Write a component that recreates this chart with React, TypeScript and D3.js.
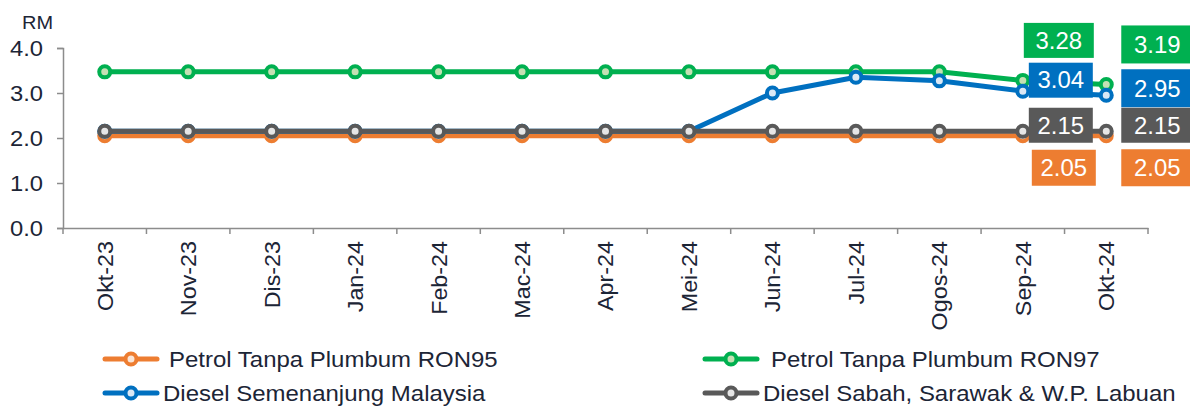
import React, { useRef, useEffect } from 'react';
import * as d3 from 'd3';

// 数据
const months = ['Okt-23', 'Nov-23', 'Dis-23', 'Jan-24', 'Feb-24', 'Mac-24', 'Apr-24', 'Mei-24', 'Jun-24', 'Jul-24', 'Ogos-24', 'Sep-24', 'Okt-24'];
const ron95 = [2.05, 2.05, 2.05, 2.05, 2.05, 2.05, 2.05, 2.05, 2.05, 2.05, 2.05, 2.05, 2.05];
const ron97 = [3.47, 3.47, 3.47, 3.47, 3.47, 3.47, 3.47, 3.47, 3.47, 3.47, 3.47, 3.28, 3.19];
const dieselSemenanjung = [2.15, 2.15, 2.15, 2.15, 2.15, 2.15, 2.15, 2.15, 3.0, 3.35, 3.27, 3.04, 2.95];
const dieselSabah = [2.15, 2.15, 2.15, 2.15, 2.15, 2.15, 2.15, 2.15, 2.15, 2.15, 2.15, 2.15, 2.15];
const yTicks = [0, 1, 2, 3, 4];

interface Series {
  name: string;
  values: number[];
  color: string;
  fill: string;
  // 标签框相对数据点的偏移 (Sep-24, Okt-24)
  labelOffsets: [number, number][];
}

const TEXT_COLOR = '#1c2536';
const AXIS_COLOR = '#8c8c8c';
const FONT = '"Liberation Sans", Arial, sans-serif';

const seriesList: Series[] = [
  { name: 'Petrol Tanpa Plumbum RON95', values: ron95, color: '#ED7D31', fill: '#FBE5D6', labelOffsets: [[41, 32], [51, 32]] },
  { name: 'Petrol Tanpa Plumbum RON97', values: ron97, color: '#00B050', fill: '#C5E0B4', labelOffsets: [[36, -40], [51, -40]] },
  { name: 'Diesel Semenanjung Malaysia', values: dieselSemenanjung, color: '#0070C0', fill: '#DAE8F5', labelOffsets: [[38, -11], [51, -7]] },
  { name: 'Diesel Sabah, Sarawak & W.P. Labuan', values: dieselSabah, color: '#595959', fill: '#E6E6E6', labelOffsets: [[38, -6], [51, -6]] }
];

// 图例位置
const legendItems = [
  { idx: 0, x: 103, y: 359, textX: 169 },
  { idx: 1, x: 703, y: 359, textX: 771 },
  { idx: 2, x: 103, y: 393, textX: 163 },
  { idx: 3, x: 703, y: 393, textX: 763 }
];

function drawChart(svgEle: SVGSVGElement) {
  const svg = d3.select(svgEle);
  svg.selectAll('*').remove();

  const x = d3.scaleBand().domain(months).range([63, 1148]).padding(0);
  const y = d3.scaleLinear().domain([0, 4]).range([228, 48]);
  const cx = (m: string) => (x(m) as number) + x.bandwidth() / 2;

  // RM 单位
  svg
    .append('text')
    .attr('transform', 'translate(22, 29) scale(1.05, 1)')
    .attr('font-size', 19)
    .attr('fill', TEXT_COLOR)
    .text('RM');

  // y 轴
  const yAxis = svg
    .append('g')
    .attr('transform', 'translate(63, 0)')
    .call(d3.axisLeft(y).tickValues(yTicks).tickSize(6).tickPadding(14).tickFormat(d3.format('.1f')));
  yAxis.select('.domain').attr('stroke', AXIS_COLOR).attr('stroke-width', 1.5);
  yAxis.selectAll('.tick line').attr('stroke', AXIS_COLOR).attr('stroke-width', 1.5);
  yAxis
    .selectAll('.tick text')
    .attr('font-size', 22)
    .attr('font-family', FONT)
    .attr('fill', TEXT_COLOR)
    .attr('x', 0)
    .attr('transform', 'translate(-20, 0) scale(1.08, 1)')
    .attr('dy', '0.36em');

  // x 轴
  const xAxis = svg
    .append('g')
    .attr('transform', `translate(0, ${y(0)})`)
    .call(d3.axisBottom(x).tickValues([]).tickSizeOuter(0));
  xAxis.select('.domain').attr('stroke', AXIS_COLOR).attr('stroke-width', 1.5);
  // 类别分隔刻度
  const boundaries = months.map((m) => x(m) as number).concat([1148]);
  svg
    .append('g')
    .selectAll('line')
    .data(boundaries)
    .enter()
    .append('line')
    .attr('x1', (d) => d)
    .attr('x2', (d) => d)
    .attr('y1', y(0))
    .attr('y2', y(0) + 6)
    .attr('stroke', AXIS_COLOR)
    .attr('stroke-width', 1.5);
  // x 轴标签 (竖排)
  svg
    .append('g')
    .selectAll('text')
    .data(months)
    .enter()
    .append('text')
    .attr('transform', (d) => `translate(${cx(d)}, 241) rotate(-90) scale(1.06, 1)`)
    .attr('text-anchor', 'end')
    .attr('dy', '0.36em')
    .attr('font-size', 22)
    .attr('fill', TEXT_COLOR)
    .text((d) => d);

  // 折线
  const line = d3
    .line<number>()
    .x((_, i) => cx(months[i]))
    .y((d) => y(d));
  for (const s of seriesList) {
    const g = svg.append('g');
    g.append('path')
      .datum(s.values)
      .attr('d', line)
      .attr('fill', 'none')
      .attr('stroke', s.color)
      .attr('stroke-width', 5)
      .attr('stroke-linejoin', 'round');
    g.selectAll('circle')
      .data(s.values)
      .enter()
      .append('circle')
      .attr('cx', (_, i) => cx(months[i]))
      .attr('cy', (d) => y(d))
      .attr('r', 5.5)
      .attr('fill', s.fill)
      .attr('stroke', s.color)
      .attr('stroke-width', 4);
  }

  // 数据标签 (最后两个月)
  const labelIdx = [months.length - 2, months.length - 1];
  const boxW = [[64, 72], [70, 72], [64, 72], [64, 72]];
  const boxH = [[36, 37], [35, 38], [35, 38], [35, 35]];
  seriesList.forEach((s, si) => {
    labelIdx.forEach((mi, k) => {
      const [dx, dy] = s.labelOffsets[k];
      const bx = cx(months[mi]) + dx;
      const by = y(s.values[mi]) + dy;
      const w = boxW[si][k];
      const h = boxH[si][k];
      svg
        .append('rect')
        .attr('x', bx - w / 2)
        .attr('y', by - h / 2)
        .attr('width', w)
        .attr('height', h)
        .attr('fill', s.color);
      svg
        .append('text')
        .attr('transform', `translate(${bx}, ${by}) scale(1.04, 1)`)
        .attr('dy', '0.36em')
        .attr('text-anchor', 'middle')
        .attr('font-size', 23)
        .attr('fill', '#ffffff')
        .text(s.values[mi].toFixed(2));
    });
  });

  // 图例
  for (const item of legendItems) {
    const s = seriesList[item.idx];
    const g = svg.append('g');
    g.append('line')
      .attr('x1', item.x + 2)
      .attr('x2', item.x + 54)
      .attr('y1', item.y)
      .attr('y2', item.y)
      .attr('stroke', s.color)
      .attr('stroke-width', 5)
      .attr('stroke-linecap', 'round');
    g.append('circle')
      .attr('cx', item.x + 28)
      .attr('cy', item.y)
      .attr('r', 5.5)
      .attr('fill', s.fill)
      .attr('stroke', s.color)
      .attr('stroke-width', 4);
    g.append('text')
      .attr('transform', `translate(${item.textX}, ${item.y}) scale(1.09, 1)`)
      .attr('dy', '0.36em')
      .attr('font-size', 22)
      .attr('fill', TEXT_COLOR)
      .text(s.name);
  }
}

export default function App(): JSX.Element {
  const svgRef = useRef<SVGSVGElement>(null);

  useEffect(() => {
    const svgEle = svgRef.current;
    if (svgEle == null) {
      return;
    }
    drawChart(svgEle);
  }, []);

  return (
    <svg
      ref={svgRef}
      width={1190}
      height={408}
      style={{ position: 'absolute', left: 0, top: 0, background: '#ffffff', fontFamily: FONT }}
    />
  );
}
